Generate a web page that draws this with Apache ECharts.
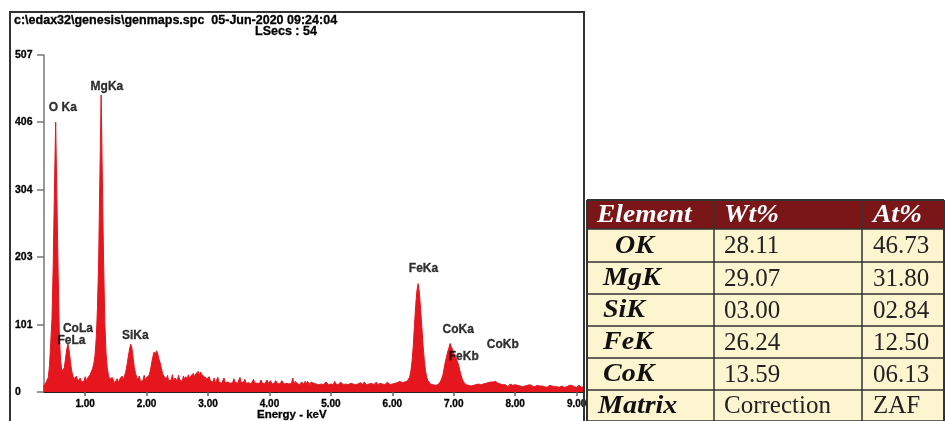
<!DOCTYPE html>
<html><head><meta charset="utf-8">
<script src="https://cdn.jsdelivr.net/npm/echarts@6/dist/echarts.min.js"></script>
<style>html,body{margin:0;padding:0;background:#fff}#c{width:945px;height:421px}</style>
</head><body><div id="c"></div>
<script>
// Spectrum: channel calibration and counts (0.02 keV channels from 0.32 keV)
const energyStartKeV = 0.32;
const channelWidthKeV = 0.02;
const counts = [
  8,11,14,17,22,40,75,110,190,305,406,290,180,85,48,32,30,36,50,64,72,62,46,32,24,
  20,17,24,16,14,21,15,18,16,23,17,21,19,26,28,35,42,55,80,125,200,325,447,320,195,
  105,58,36,25,19,16,22,18,13,15,20,14,19,16,24,18,24,30,40,52,63,72,67,52,37,
  28,22,18,24,16,19,17,25,18,22,20,25,32,42,52,60,56,62,58,50,44,36,28,24,21,
  19,25,17,20,18,26,16,21,19,17,25,18,20,16,24,19,23,18,26,20,24,21,28,23,27,
  24,31,25,30,26,28,23,25,20,18,23,16,19,15,21,14,17,22,15,18,13,16,21,14,17,
  15,18,13,16,14,20,15,17,13,16,22,14,17,15,19,13,16,14,17,12,15,19,14,16,13,
  15,13,18,14,16,12,15,18,13,14,17,12,15,13,17,14,12,15,13,17,14,12,15,13,14,
  12,15,13,21,11,16,13,12,15,11,15,13,12,16,12,16,13,11,15,12,13,15,12,14,11,
  13,12,15,11,13,15,12,11,14,12,13,11,16,12,13,11,12,15,12,11,13,12,15,11,12,
  13,11,12,15,11,13,12,10,14,12,11,15,12,11,13,12,10,13,13,11,12,15,11,12,13,
  11,12,14,11,12,15,12,11,13,12,15,13,12,14,13,16,13,14,12,15,14,16,18,22,30,
  45,68,100,130,152,163,150,125,98,70,48,32,22,17,14,12,13,11,12,10,12,11,13,15,18,
  24,34,44,52,60,66,73,68,64,58,54,50,46,40,32,25,19,15,13,11,12,10,11,9,11,
  10,9,11,10,12,9,11,10,12,11,13,12,14,13,15,16,15,18,16,14,13,11,12,10,11,
  9,11,10,8,10,12,9,10,8,11,9,10,8,9,12,8,10,9,8,10,9,11,8,9,10,
  8,9,10,8,9,7,9,11,8,9,7,8,10,8,9,7,8,10,8,10,7,8,9,8,7,
  9,8,7,10,8,10,7,8,9,7,8,10,8,7,9,8
];
const xTickValues = [1,2,3,4,5,6,7,8,9];
const yTickValues = [0,101,203,304,406,507];
const peakLabels = ['O Ka','MgKa','CoLa','FeLa','SiKa','FeKa','CoKa','FeKb','CoKb'];
const peakLabelEnergy = [0.40,1.08,0.63,0.54,1.59,6.26,6.81,6.91,7.53];
const peakLabelCounts = [427,459,96,77,84,185,93,53,71];
const headerLine = 'c:\\edax32\\genesis\\genmaps.spc  05-Jun-2020 09:24:04';
const liveSecs = 'LSecs : 54';
const xAxisTitle = 'Energy - keV';
const tableHeaders = ['Element','Wt%','At%'];
const elementNames = ['OK','MgK','SiK','FeK','CoK','Matrix'];
const wtPercent = ['28.11','29.07','03.00','26.24','13.59','Correction'];
const atPercent = ['46.73','31.80','02.84','12.50','06.13','ZAF'];

const spectrum = counts.map((c, i) => [+(energyStartKeV + i * channelWidthKeV).toFixed(2), c]);
const labelData = peakLabels.map((n, i) => ({ name: n, value: [peakLabelEnergy[i], peakLabelCounts[i]] }));

const RED = '#e5161e';
const sans = '"Liberation Sans", Arial, sans-serif';
const serif = '"Liberation Serif", "Times New Roman", serif';

// table layout
const colX = [587, 714, 862, 944];
const rowY = [200, 229, 262, 294, 326, 358, 390, 421];
const textX = [603, 724, 873];

const graphics = [];
graphics.push({ type: 'rect', z: 100, shape: { x: 10, y: 12, width: 574, height: 430 },
  style: { fill: 'none', stroke: '#333', lineWidth: 2 } });
const boldSmall = { fill: '#000', stroke: '#000', lineWidth: 0.3, textVerticalAlign: 'middle' };
graphics.push({ type: 'text', x: 14, y: 21, z: 100, style: Object.assign({ text: headerLine, font: 'bold 12.5px ' + sans }, boldSmall) });
graphics.push({ type: 'text', x: 255, y: 32, z: 100, style: Object.assign({ text: liveSecs, font: 'bold 12.5px ' + sans }, boldSmall) });
graphics.push({ type: 'text', x: 257, y: 415, z: 100, style: Object.assign({ text: xAxisTitle, font: 'bold 11.5px ' + sans }, boldSmall) });
graphics.push({ type: 'rect', z: 90, shape: { x: colX[0], y: rowY[0], width: colX[3] - colX[0], height: rowY[1] - rowY[0] }, style: { fill: '#7a1518' } });
graphics.push({ type: 'rect', z: 90, shape: { x: colX[0], y: rowY[1], width: colX[3] - colX[0], height: rowY[7] - rowY[1] }, style: { fill: '#fdf5d0' } });
rowY.forEach((y, i) => {
  graphics.push({ type: 'line', z: 95, shape: { x1: colX[0], y1: y, x2: colX[3], y2: y }, style: { stroke: '#333', lineWidth: (i === 0) ? 2 : 1.5 } });
});
colX.forEach((x, i) => {
  graphics.push({ type: 'line', z: 95, shape: { x1: x, y1: rowY[0], x2: x, y2: rowY[7] }, style: { stroke: '#333', lineWidth: (i === 0 || i === 3) ? 2 : 1.5 } });
});
tableHeaders.forEach((h, j) => {
  graphics.push({ type: 'text', z: 96, x: j === 0 ? 597 : textX[j], y: (rowY[0] + rowY[1]) / 2 + 1, scaleX: 1.1,
    style: { text: h, font: 'italic bold 25px ' + serif, fill: '#fff', textVerticalAlign: 'middle' } });
});
elementNames.forEach((n, r) => {
  const cy = (rowY[r + 1] + rowY[r + 2]) / 2 + 1;
  graphics.push({ type: 'text', z: 96, x: r === 0 ? 615 : (r === 5 ? 598 : textX[0]), y: cy, scaleX: 1.12,
    style: { text: n, font: 'italic bold 25px ' + serif, fill: '#111', textVerticalAlign: 'middle' } });
  graphics.push({ type: 'text', z: 96, x: textX[1], y: cy, style: { text: wtPercent[r], font: '25px ' + serif, fill: '#222', textVerticalAlign: 'middle' } });
  graphics.push({ type: 'text', z: 96, x: textX[2], y: cy, style: { text: atPercent[r], font: '25px ' + serif, fill: '#222', textVerticalAlign: 'middle' } });
});

const chart = echarts.init(document.getElementById('c'), null, { renderer: 'canvas' });
chart.setOption({
  animation: false,
  backgroundColor: '#fff',
  grid: { left: 44, right: 361, top: 55, bottom: 29, containLabel: false, outerBoundsMode: 'none' },
  xAxis: {
    type: 'value', min: 0.33, max: 9.12,
    splitLine: { show: false },
    axisLine: { show: true, onZero: false, lineStyle: { color: '#222', width: 2 } },
    axisTick: { show: true, customValues: xTickValues, length: 4, lineStyle: { color: '#666', width: 1.5 } },
    axisLabel: { show: true, customValues: xTickValues, formatter: v => Number(v).toFixed(2), margin: 7,
      fontSize: 10, fontWeight: 'bold', fontFamily: sans, color: '#000', textBorderColor: '#000', textBorderWidth: 0.3 },
    minorTick: { show: false }
  },
  yAxis: {
    type: 'value', min: 0, max: 507,
    splitLine: { show: false },
    axisLine: { show: true, lineStyle: { color: '#777', width: 1.5 } },
    axisTick: { show: true, customValues: yTickValues, length: 7, lineStyle: { color: '#777', width: 1.5 } },
    axisLabel: { show: true, customValues: yTickValues, align: 'left', margin: 29,
      fontSize: 10.5, fontWeight: 'bold', fontFamily: sans, color: '#000', textBorderColor: '#000', textBorderWidth: 0.3 }
  },
  series: [
    {
      type: 'line', data: spectrum, showSymbol: false, symbol: 'none', sampling: null,
      lineStyle: { color: RED, width: 1 }, itemStyle: { color: RED },
      areaStyle: { color: RED, opacity: 1 }, z: 2, silent: true
    },
    {
      type: 'scatter', data: labelData, symbolSize: 1, itemStyle: { color: 'rgba(0,0,0,0)' }, z: 5, silent: true,
      label: { show: true, position: 'right', distance: 0, formatter: p => p.name,
        fontSize: 12, fontWeight: 'bold', fontFamily: sans, color: '#000', textBorderColor: '#000', textBorderWidth: 0.3 }
    }
  ],
  graphic: graphics
});
</script>
</body></html>
